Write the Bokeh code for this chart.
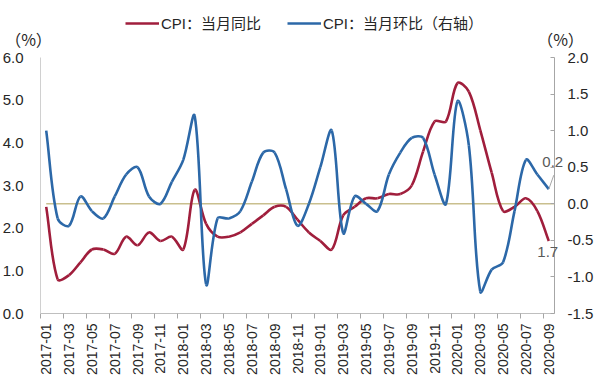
import math
from bokeh.plotting import figure
from bokeh.models import (Range1d, LinearAxis, FixedTicker, NumeralTickFormatter,
                          Label, Legend, LegendItem, ColumnDataSource)
from bokeh.embed import file_html
from bokeh.resources import INLINE

months = ["2017-01", "2017-02", "2017-03", "2017-04", "2017-05", "2017-06",
          "2017-07", "2017-08", "2017-09", "2017-10", "2017-11", "2017-12",
          "2018-01", "2018-02", "2018-03", "2018-04", "2018-05", "2018-06",
          "2018-07", "2018-08", "2018-09", "2018-10", "2018-11", "2018-12",
          "2019-01", "2019-02", "2019-03", "2019-04", "2019-05", "2019-06",
          "2019-07", "2019-08", "2019-09", "2019-10", "2019-11", "2019-12",
          "2020-01", "2020-02", "2020-03", "2020-04", "2020-05", "2020-06",
          "2020-07", "2020-08", "2020-09"]

cpi_yoy = [2.5, 0.8, 0.9, 1.2, 1.5, 1.5, 1.4, 1.8, 1.6, 1.9, 1.7, 1.8,
           1.5, 2.9, 2.1, 1.8, 1.8, 1.9, 2.1, 2.3, 2.5, 2.5, 2.2, 1.9,
           1.7, 1.5, 2.3, 2.5, 2.7, 2.7, 2.8, 2.8, 3.0, 3.8, 4.5, 4.5,
           5.4, 5.2, 4.3, 3.3, 2.4, 2.5, 2.7, 2.4, 1.7]

cpi_mom = [1.0, -0.2, -0.3, 0.1, -0.1, -0.2, 0.1, 0.4, 0.5, 0.1, 0.0, 0.3,
           0.6, 1.2, -1.1, -0.2, -0.2, -0.1, 0.3, 0.7, 0.7, 0.2, -0.3, 0.0,
           0.5, 1.0, -0.4, 0.1, 0.0, -0.1, 0.4, 0.7, 0.9, 0.9, 0.4, 0.0,
           1.4, 0.8, -1.2, -0.9, -0.8, -0.1, 0.6, 0.4, 0.2]

left_ticks = [0, 1, 2, 3, 4, 5, 6]
right_ticks = [-1.5, -1.0, -0.5, 0.0, 0.5, 1.0, 1.5, 2.0]

RED = "#A01E3C"
BLUE = "#2C68A8"
FONT = "Liberation Sans, Noto Sans CJK SC"

# ---- layout (pixels) ----
W, H = 600, 378
PX_L, PX_R, PX_T, PX_B = 40, 554, 57, 313      # plot area edges

n = len(months)
X0, X1 = -0.5, n - 0.5
L0, L1 = left_ticks[0], left_ticks[-1]
R0, R1 = right_ticks[0], right_ticks[-1]
kx = (PX_R - PX_L) / (X1 - X0)
kl = (PX_B - PX_T) / (L1 - L0)
kr = (PX_B - PX_T) / (R1 - R0)


def smooth_segments(ys, ky):
    """Bezier control points (chord-weighted Catmull-Rom, like office-chart
    smoothing) computed from the data points, in screen proportions."""
    m = len(ys)
    pts = [(i * kx, v * ky) for i, v in enumerate(ys)]

    def dist(a, b):
        return math.hypot(pts[a][0] - pts[b][0], pts[a][1] - pts[b][1])

    out_c = []   # control point leaving point i
    in_c = []    # control point arriving at point i
    for i in range(m):
        a = max(i - 1, 0)
        b = min(i + 2 - 1, m - 1)
        tx = pts[b][0] - pts[a][0]
        ty = pts[b][1] - pts[a][1]
        d_prev = dist(a, i)
        d_next = dist(i, b)
        tot = d_prev + d_next
        f_next = (d_next / tot) / 3 if tot else 0
        f_prev = (d_prev / tot) / 3 if tot else 0
        out_c.append((pts[i][0] + tx * f_next, pts[i][1] + ty * f_next))
        in_c.append((pts[i][0] - tx * f_prev, pts[i][1] - ty * f_prev))

    d = dict(x0=[], y0=[], x1=[], y1=[], cx0=[], cy0=[], cx1=[], cy1=[])
    for i in range(m - 1):
        d["x0"].append(i)
        d["y0"].append(ys[i])
        d["x1"].append(i + 1)
        d["y1"].append(ys[i + 1])
        d["cx0"].append(out_c[i][0] / kx)
        d["cy0"].append(out_c[i][1] / ky)
        d["cx1"].append(in_c[i + 1][0] / kx)
        d["cy1"].append(in_c[i + 1][1] / ky)
    return ColumnDataSource(d)


p = figure(width=W, height=H, output_backend="svg", toolbar_location=None,
           x_range=Range1d(X0 - PX_L / kx, X1 + (W - PX_R) / kx),
           y_range=Range1d(L0 - (H - PX_B) / kl, L1 + PX_T / kl),
           x_axis_location=None, y_axis_location=None,
           min_border_left=0, min_border_right=0, min_border_top=0,
           min_border_bottom=0)
p.extra_y_ranges = {"right": Range1d(R0 - (H - PX_B) / kr, R1 + PX_T / kr)}
p.grid.visible = False
p.outline_line_color = None
p.background_fill_color = "white"
p.border_fill_color = "white"

# x axis
major = list(range(0, n, 2))
xa = LinearAxis(fixed_location=L0, bounds=(X0, X1),
                ticker=FixedTicker(ticks=major, minor_ticks=[m - 0.5 for m in major]))
xa.major_label_overrides = {m: months[m] for m in major}
xa.major_label_orientation = 1.5707963
xa.major_tick_line_color = None
xa.major_tick_out = 0
xa.major_tick_in = 0
xa.minor_tick_line_color = "#A6A6A6"
xa.minor_tick_out = 5
xa.minor_tick_in = 0
xa.axis_line_color = "#BFBFBF"
xa.major_label_standoff = 5
xa.major_label_text_font = FONT
xa.major_label_text_font_size = "14px"
xa.major_label_text_color = "#262626"
p.add_layout(xa, "below")

# left axis
ya = LinearAxis(fixed_location=X0, bounds=(L0, L1),
                ticker=FixedTicker(ticks=left_ticks),
                formatter=NumeralTickFormatter(format="0.0"))
ya.major_tick_line_color = None
ya.major_tick_out = 0
ya.major_tick_in = 0
ya.minor_tick_line_color = None
ya.axis_line_color = "#D0D0D0"
ya.major_label_standoff = 17
ya.major_label_text_font = FONT
ya.major_label_text_font_size = "15px"
ya.major_label_text_color = "#262626"
p.add_layout(ya, "left")

# right axis
ra = LinearAxis(y_range_name="right", fixed_location=X1, bounds=(R0, R1),
                ticker=FixedTicker(ticks=right_ticks),
                formatter=NumeralTickFormatter(format="0.0"))
ra.major_tick_in = 4
ra.major_tick_out = 0
ra.major_tick_line_color = "#A6A6A6"
ra.minor_tick_line_color = None
ra.axis_line_color = "#A6A6A6"
ra.major_label_standoff = 13
ra.major_label_text_font = FONT
ra.major_label_text_font_size = "15px"
ra.major_label_text_color = "#262626"
p.add_layout(ra, "right")

# zero line of the right axis
p.segment(x0=[0], x1=[X1], y0=[0], y1=[0], y_range_name="right",
          line_color="#C9BF8E", line_width=1.5)

r_yoy = p.bezier(x0="x0", y0="y0", x1="x1", y1="y1", cx0="cx0", cy0="cy0",
                 cx1="cx1", cy1="cy1", source=smooth_segments(cpi_yoy, kl),
                 line_color=RED, line_width=2.6)
r_mom = p.bezier(x0="x0", y0="y0", x1="x1", y1="y1", cx0="cx0", cy0="cy0",
                 cx1="cx1", cy1="cy1", source=smooth_segments(cpi_mom, kr),
                 y_range_name="right", line_color=BLUE, line_width=2.6)

legend = Legend(items=[LegendItem(label="CPI：当月同比", renderers=[r_yoy]),
                       LegendItem(label="CPI：当月环比（右轴）", renderers=[r_mom])],
                orientation="horizontal", location=(125, H - 33),
                glyph_width=34, glyph_height=18, label_height=18,
                label_standoff=2, spacing=26, padding=0, margin=0,
                border_line_color=None, background_fill_alpha=0,
                label_text_font=FONT, label_text_font_size="15px",
                label_text_color="#262626")
p.add_layout(legend)

# unit labels
for lx in (28, 560):
    p.add_layout(Label(x=lx, y=H - 38, x_units="screen", y_units="screen",
                       text="（%）", text_font="Noto Sans CJK SC",
                       text_font_size="16px", text_color="#262626",
                       text_align="center", text_baseline="middle"))

# end value labels
last = n - 1
p.segment(x0=[last], y0=[cpi_mom[last]], x1=[last + 5 / kx],
          y1=[cpi_mom[last] + 14 / kr], y_range_name="right",
          line_color="#A6A6A6", line_width=1)
p.add_layout(Label(x=last, y=cpi_mom[last], y_range_name="right",
                   text=f"{cpi_mom[last]:.1f}", x_offset=4, y_offset=27,
                   text_align="center", text_baseline="middle",
                   text_font=FONT, text_font_size="15px", text_color="#595959"))
p.add_layout(Label(x=last, y=cpi_yoy[last],
                   text=f"{cpi_yoy[last]:.1f}", x_offset=-1, y_offset=-11,
                   text_align="center", text_baseline="middle",
                   text_font=FONT, text_font_size="15px", text_color="#595959"))

open("out.html", "w").write(file_html(p, INLINE))
